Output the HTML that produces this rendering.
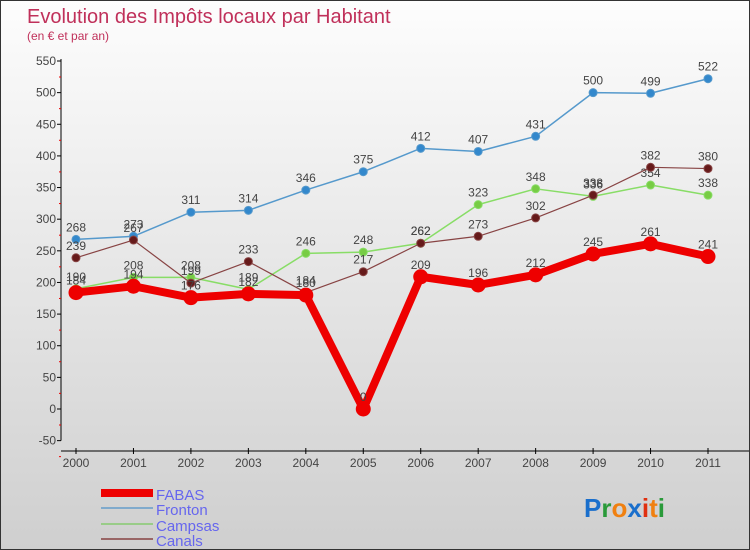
<!DOCTYPE html>
<html><head><meta charset="utf-8"><style>
body{margin:0}
#c{position:relative;width:748px;height:548px;border:1px solid #333;background:linear-gradient(#fdfdfd,#cfcfcf);overflow:hidden;font-family:"Liberation Sans",sans-serif}
</style></head><body>
<div id="c">
<svg id="s" width="748" height="548" xmlns="http://www.w3.org/2000/svg">
<text x="26" y="22" font-size="20" fill="#c0305a">Evolution des Impôts locaux par Habitant</text>
<text x="26" y="39" font-size="12" fill="#c0305a">(en € et par an)</text>
<g id="axes"></g><g id="series"></g>
<g>
<rect x="100" y="488" width="52" height="8" fill="#e00"/>
<text x="155" y="499" font-size="15" fill="#6666ee">FABAS</text>
<rect x="100" y="506" width="52" height="2" fill="#80aacc"/>
<text x="155" y="514" font-size="15" fill="#6666ee">Fronton</text>
<rect x="100" y="522" width="52" height="2" fill="#99cc88"/>
<text x="155" y="530" font-size="15" fill="#6666ee">Campsas</text>
<rect x="100" y="537" width="52" height="2" fill="#996666"/>
<text x="155" y="545" font-size="15" fill="#6666ee">Canals</text>
</g>
<g font-size="26" font-weight="bold">
<text x="583" y="516"><tspan fill="#1a6fcc">P</tspan><tspan fill="#2a9a3a">r</tspan><tspan fill="#f08010">o</tspan><tspan fill="#1a6fcc">x</tspan><tspan fill="#e03010">i</tspan><tspan fill="#f08010">t</tspan><tspan fill="#2a9a3a">i</tspan></text>
</g>
</svg>
</div>
<script>
const years=["2000","2001","2002","2003","2004","2005","2006","2007","2008","2009","2010","2011"];
const yTicks=[-50,0,50,100,150,200,250,300,350,400,450,500,550];
const fabas=[184,194,176,182,180,0,209,196,212,245,261,241];
const fronton=[268,273,311,314,346,375,412,407,431,500,499,522];
const campsas=[190,208,208,189,246,248,262,323,348,336,354,338];
const canals=[239,267,199,233,184,217,262,273,302,338,382,380];
const NS="http://www.w3.org/2000/svg";
function X(i){return 75+i*(707-75)/(years.length-1);}
function Y(v){return 408-v*(348/550);}
function mk(tag,attrs,parent){const e=document.createElementNS(NS,tag);for(const k in attrs)e.setAttribute(k,attrs[k]);parent.appendChild(e);return e;}
const ax=document.getElementById('axes');
let a=mk('line',{x1:60,y1:Y(550)-2,x2:60,y2:Y(-50),stroke:'#000','stroke-width':1},ax);


yTicks.forEach(v=>{
  mk('line',{x1:56,x2:60,y1:Y(v),y2:Y(v),stroke:'#000'},ax);
  mk('line',{x1:58,x2:60,y1:Y(v)+16,y2:Y(v)+16,stroke:'#e00'},ax);
  const t=mk('text',{x:55,y:Y(v)+4,'text-anchor':'end','font-size':12,fill:'#444'},ax);t.textContent=v;
  
  
});
a=mk('line',{x1:60,y1:450,x2:748,y2:450,stroke:'#000'},ax);


years.forEach((y,i)=>{
  mk('line',{x1:X(i),x2:X(i),y1:447,y2:453,stroke:'#000'},ax);
  const t=mk('text',{x:X(i),y:466,'text-anchor':'middle','font-size':12,fill:'#444'},ax);t.textContent=y;
  
  
});
const sg=document.getElementById('series');
function series(name,data,color,w,r,dot){
  const g=mk('g',{},sg);
  
  
  mk('polyline',{points:data.map((v,i)=>X(i)+','+Y(v)).join(' '),fill:'none',stroke:color,'stroke-width':w,'stroke-linejoin':'round'},g);
  data.forEach((v,i)=>{
    const c=mk('circle',{cx:X(i),cy:Y(v),r:r,fill:dot,stroke:color,'stroke-width':1},g);
    
    
    const t=mk('text',{x:X(i),y:Y(v)-8,'text-anchor':'middle','font-size':12,fill:'#444'},g);t.textContent=v;
    
    
  });
}
series('fronton',fronton,'#5599cc',1.5,4,'#3388cc');
series('campsas',campsas,'#88dd66',1.5,4,'#77cc44');
series('canals',canals,'#884444',1.2,4,'#661a1a');
series('fabas',fabas,'#ee0000',8,7,'#ee0000');
</script>
</body></html>
